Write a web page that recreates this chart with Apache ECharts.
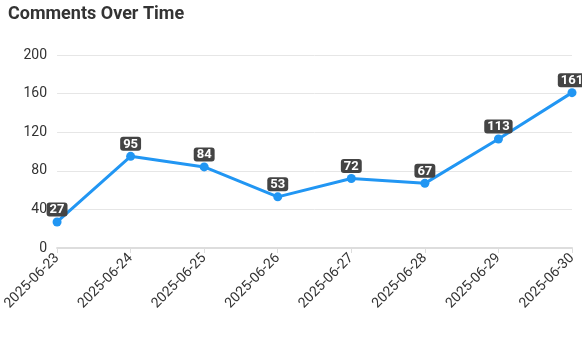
<!DOCTYPE html>
<html><head><meta charset="utf-8">
<script src="https://cdn.jsdelivr.net/npm/echarts@6/dist/echarts.min.js"></script>
<style>html,body{margin:0;padding:0;background:#fff}#c{width:582px;height:350px}</style>
</head><body><div id="c"></div>
<script>
const categories = ['2025-06-23','2025-06-24','2025-06-25','2025-06-26','2025-06-27','2025-06-28','2025-06-29','2025-06-30'];
const comments = [27, 95, 84, 53, 72, 67, 113, 161];
const yTicks = [0, 40, 80, 120, 160, 200];

const chart = echarts.init(document.getElementById('c'));
chart.setOption({
  animation: false,
  textStyle: { fontFamily: 'Roboto' },
  title: { text: 'Comments Over Time', left: 3, top: 0, textStyle: { fontSize: 18, fontWeight: 'bold', color: '#333', fontFamily: 'Roboto' } },
  grid: { left: 52, right: 10, top: 55, bottom: 102 },
  xAxis: {
    type: 'category', data: categories, boundaryGap: false,
    axisLine: { lineStyle: { color: '#ddd', width: 2 } },
    axisTick: { show: true, lineStyle: { color: '#ddd' } },
    axisLabel: { rotate: 45, color: '#333', fontSize: 14, margin: 8 }
  },
  yAxis: {
    type: 'value', min: yTicks[0], max: yTicks[yTicks.length-1], interval: 40,
    axisLine: { show: false }, axisTick: { show: false },
    splitLine: { lineStyle: { color: '#e6e6e6' } },
    axisLabel: { color: '#333', fontSize: 14, margin: 10 }
  },
  series: [{
    type: 'line', data: comments,
    symbol: 'circle', symbolSize: 9,
    lineStyle: { color: '#2196f3', width: 3 },
    itemStyle: { color: '#2196f3' },
    label: {
      show: true, position: 'top', distance: 1,
      color: '#fff', fontWeight: 'bold', fontSize: 13,
      backgroundColor: '#444', borderRadius: 3, padding: [1, 3, 0, 3]
    }
  }]
});
</script></body></html>
